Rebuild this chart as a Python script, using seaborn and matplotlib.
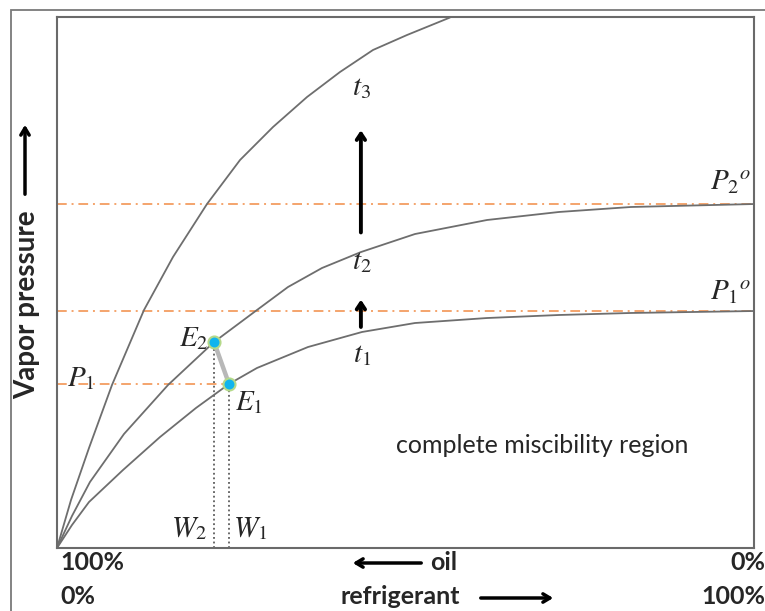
import numpy as np
import pandas as pd
import matplotlib
matplotlib.use("Agg")
import matplotlib.pyplot as plt
import matplotlib.patches as mpatches
import seaborn as sns

# curve readings: x = % refrigerant, y = vapor pressure (relative, 0-100)
t1_x = [0, 2.15, 4.59, 9.47, 14.78, 19.94, 24.68, 28.69, 36.01, 43.76, 51.36, 61.69, 72.02, 82.35, 100]
t1_y = [0, 4.33, 8.66, 14.69, 20.90, 26.37, 30.89, 33.90, 37.85, 40.68, 42.37, 43.31, 43.88, 44.26, 44.63]
t2_x = [0, 2.15, 4.73, 9.61, 15.93, 22.53, 28.69, 33.14, 38.02, 43.62, 51.36, 61.69, 72.02, 82.35, 100]
t2_y = [0, 6.03, 12.43, 21.47, 30.70, 38.79, 44.82, 49.15, 52.73, 55.74, 59.13, 61.77, 63.28, 64.22, 64.78]
t3_x = [0, 2.01, 4.59, 7.89, 12.48, 16.64, 21.52, 26.26, 30.99, 35.87, 40.60, 45.34, 50.22, 56.38]
t3_y = [0, 9.04, 18.83, 30.70, 44.82, 54.80, 64.78, 73.07, 79.28, 84.93, 89.64, 93.79, 96.61, 99.9]

p1_sat = 44.63
p2_sat = 64.78
e_names = ["E1", "E2"]
e_x = [24.68, 22.53]
e_y = [30.89, 38.79]

sns.set_style("white")
plt.rcParams["font.family"] = ["Lato", "DejaVu Sans"]
plt.rcParams["mathtext.fontset"] = "stix"

fig = plt.figure(figsize=(7.65, 6.11), dpi=100)
ax = fig.add_axes([57 / 765, 63 / 611, 697 / 765, 531 / 611])

curves = pd.concat([
    pd.DataFrame({"curve": "t1", "x": t1_x, "y": t1_y}),
    pd.DataFrame({"curve": "t2", "x": t2_x, "y": t2_y}),
    pd.DataFrame({"curve": "t3", "x": t3_x, "y": t3_y}),
])
sns.lineplot(data=curves, x="x", y="y", hue="curve", units="curve", estimator=None,
             sort=False, palette=["#6e6e6e"] * 3, lw=1.3, legend=False, ax=ax)

orange = "#f4a46c"
dash = dict(color=orange, lw=1.4, dashes=(5, 2.5, 1, 2.5))
ax.plot([0, 100], [p2_sat, p2_sat], **dash, zorder=1)
ax.plot([0, 100], [p1_sat, p1_sat], **dash, zorder=1)
ax.plot([0, e_x[0]], [e_y[0], e_y[0]], **dash, zorder=1)

# W1 / W2 dotted drops
for xx, yy in zip(e_x, e_y):
    ax.plot([xx, xx], [0, yy], color="#404040", ls=(0, (1.2, 1.8)), lw=1.1, zorder=1)

ax.plot(e_x, e_y, color="#b8b8b8", lw=3.2, solid_capstyle="round", zorder=3)
sns.scatterplot(x=e_x, y=e_y, color="#10b4ee", edgecolor="#b5d98a", linewidth=1.5,
                s=75, zorder=4, ax=ax)

# temperature arrows
arr = dict(arrowstyle="->,head_length=0.45,head_width=0.3", color="black", lw=2.8)
ax.annotate("", xy=(43.6, 79.2), xytext=(43.6, 58.9), arrowprops=arr)
ax.annotate("", xy=(43.6, 47.3), xytext=(43.6, 41.1), arrowprops=arr)

mfs = 21
ax.text(43.7, 86.6, "$t_3$", fontsize=mfs, ha="center", va="center")
ax.text(43.7, 53.9, "$t_2$", fontsize=mfs, ha="center", va="center")
ax.text(43.7, 36.3, "$t_1$", fontsize=mfs, ha="center", va="center")
ax.text(99.6, 68.9, "$P_2{}^{o}$", fontsize=mfs, ha="right", va="center")
ax.text(99.6, 48.2, "$P_1{}^{o}$", fontsize=mfs, ha="right", va="center")
ax.text(21.7, 39.5, "$E_2$", fontsize=mfs, ha="right", va="center")
ax.text(25.5, 27.3, "$E_1$", fontsize=mfs, ha="left", va="center")
ax.text(1.4, 32.0, "$P_1$", fontsize=mfs, ha="left", va="center")
ax.text(21.5, 3.6, "$W_2$", fontsize=mfs, ha="right", va="center")
ax.text(25.3, 3.6, "$W_1$", fontsize=mfs, ha="left", va="center")
ax.text(69.6, 19.3, "complete miscibility region", fontsize=18, ha="center", va="center")

ax.set_xlim(0, 100)
ax.set_ylim(0, 100)
ax.set_xticks([])
ax.set_yticks([])
ax.set_xlabel("")
ax.set_ylabel("")
for s in ax.spines.values():
    s.set_color("#6a6a6a")
    s.set_linewidth(1.5)

# figure frame (runs off the right / bottom edge)
fig.patches.append(mpatches.Rectangle((11 / 765, -0.1), 1.2, 0.1 + 1 - 10 / 611,
                                      transform=fig.transFigure, fill=False,
                                      edgecolor="#7a7a7a", lw=1.3))

bold = dict(fontsize=18, fontweight="bold", va="center")
fig.text(60 / 765, 1 - 562 / 611, "100%", ha="left", **bold)
fig.text(1.0, 1 - 562 / 611, "0%", ha="right", **bold)
fig.text(430 / 765, 1 - 562 / 611, "oil", ha="left", **bold)
fig.text(60 / 765, 1 - 597 / 611, "0%", ha="left", **bold)
fig.text(340 / 765, 1 - 597 / 611, "refrigerant", ha="left", **bold)
fig.text(1.0, 1 - 597 / 611, "100%", ha="right", **bold)
fig.text(27 / 765, 1 - 305 / 611, "Vapor pressure", rotation=90, ha="center",
         fontsize=20, fontweight="bold", va="center")

farr = dict(arrowstyle="->,head_length=0.5,head_width=0.3", color="black", lw=2.5)
ax.annotate("", xy=(350 / 765, 1 - 563 / 611), xytext=(424 / 765, 1 - 563 / 611),
            xycoords="figure fraction", textcoords="figure fraction",
            arrowprops=farr, annotation_clip=False)
ax.annotate("", xy=(556 / 765, 1 - 598 / 611), xytext=(478 / 765, 1 - 598 / 611),
            xycoords="figure fraction", textcoords="figure fraction",
            arrowprops=farr, annotation_clip=False)
ax.annotate("", xy=(25 / 765, 1 - 122 / 611), xytext=(25 / 765, 1 - 197 / 611),
            xycoords="figure fraction", textcoords="figure fraction",
            arrowprops=farr, annotation_clip=False)

fig.savefig("out.png", dpi=100)
